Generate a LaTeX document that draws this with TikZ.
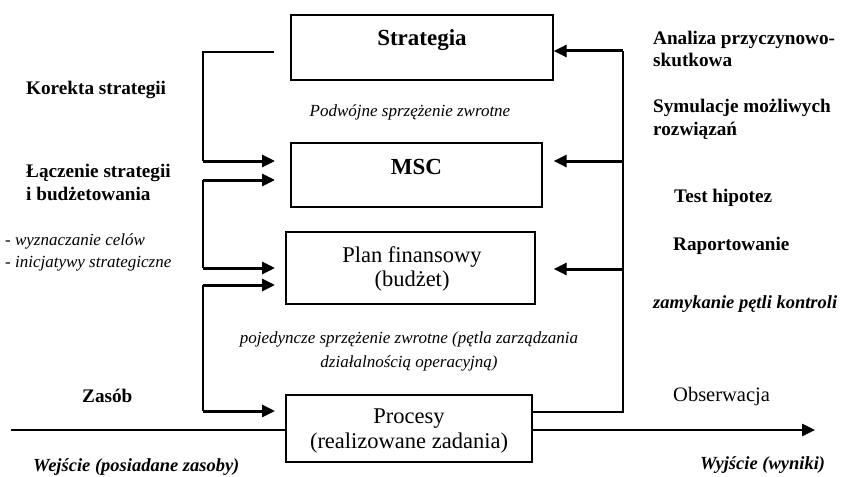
\documentclass[tikz,border=0pt]{standalone}
\usepackage{fontspec}
\setmainfont{Liberation Serif}
\usetikzlibrary{calc}
\usetikzlibrary{arrows.meta}

\tikzset{
  blok/.style={draw,line width=1.3pt,inner sep=0pt},
  tytul/.style={font=\fontsize{23}{26}\selectfont\bfseries,anchor=base},
  tresc/.style={font=\fontsize{22.5}{25}\selectfont,anchor=base},
  opis/.style={font=\fontsize{19.2}{23}\selectfont\bfseries,align=left,anchor=base west,inner sep=0pt},
  opisn/.style={font=\fontsize{20.5}{23}\selectfont,anchor=base west,inner sep=0pt},
  kurs/.style={font=\fontsize{17}{21}\selectfont\itshape,inner sep=0pt},
  kursb/.style={font=\fontsize{18.5}{22}\selectfont\bfseries\itshape,anchor=base west,inner sep=0pt},
  cienka/.style={line width=1.3pt},
  gruba/.style={line width=3pt,-{Triangle[length=13pt,width=12pt]}},
  wyjscie/.style={line width=2.5pt,-{Triangle[length=13pt,width=12pt]}}
}

\begin{document}
\begin{tikzpicture}[x=1pt,y=-1pt]
\useasboundingbox (0,0) rectangle (850,476);
\node[blok,minimum width=262pt,minimum height=65pt] (S) at (422,47.5) {};
\node[blok,minimum width=251pt,minimum height=64pt] (M) at (416.5,175) {};
\node[blok,minimum width=249pt,minimum height=72pt] (F) at (410.5,268) {};
\node[blok,minimum width=246pt,minimum height=67pt] (P) at (409,428.5) {};
\node[tytul] (St) at (422,46) {Strategia};
\node[tytul] (Mt) at (416.5,174) {MSC};
\node[tresc] (Ft1) at (412,262) {Plan finansowy};
\node[tresc] (Ft2) at (412,286) {(budżet)};
\node[tresc] (Pt1) at (409,423) {Procesy};
\node[tresc] (Pt2) at (409,448) {(realizowane zadania)};
\node[kurs,anchor=base] (pod) at (410,117) {Podwójne sprzężenie zwrotne};
\node[kurs,anchor=base] (poj1) at (409,343) {pojedyncze sprzężenie zwrotne (pętla zarządzania};
\node[kurs,anchor=base] (poj2) at (409,367) {działalnością operacyjną)};

\node[opis] (kor) at (26,95) {Korekta strategii};
\node[opis] (lacz1) at (26,177) {Łączenie strategii};
\node[opis] (lacz2) at (26,200) {i budżetowania};
\node[kurs,anchor=base west] (cel1) at (5,245) {- wyznaczanie celów};
\node[kurs,anchor=base west] (cel2) at (5,267) {- inicjatywy strategiczne};
\node[opis] (zas) at (82,402) {Zasób};
\node[kursb] (wej) at (33,471) {Wejście (posiadane zasoby)};

\node[opis] (ana1) at (653,45) {Analiza przyczynowo-};
\node[opis] (ana2) at (653,67) {skutkowa};
\node[opis] (sym1) at (653,113) {Symulacje możliwych};
\node[opis] (sym2) at (653,135) {rozwiązań};
\node[opis] (test) at (674,202) {Test hipotez};
\node[opis] (rap) at (673,250) {Raportowanie};
\node[kursb] (zam) at (653,308) {zamykanie pętli kontroli};
\node[opisn] (obs) at (673,401) {Obserwacja};
\node[kursb] (wyj) at (700,469) {Wyjście (wyniki)};

\coordinate (A0) at (274,52);
\coordinate (A1) at (203,161);
\coordinate (A2) at (203,180);
\coordinate (A3) at (203,268);
\coordinate (A4) at (203,285);
\coordinate (A5) at (203,411);
\coordinate (B0) at (623,51);
\coordinate (B1) at (623,161);
\coordinate (B2) at (623,269);
\coordinate (B3) at (623,412);
\coordinate (W0) at (11,430);
\coordinate (W1) at (815,430);

\draw[cienka] (A0) -| (A1);
\draw[cienka] (A2) -- (A3);
\draw[cienka] (A4) -- (A5);
\foreach \a in {A1,A2,A3,A4,A5}
  \draw[gruba] (\a) -- ++(72,0);

\draw[cienka] (P.east |- B3) -- (B3) -- (B0);
\foreach \b in {B0,B1,B2}
  \draw[gruba] (\b) -- (S.east |- \b);

\draw[cienka] (W0) -- (W0 -| P.west);
\draw[wyjscie] (W0 -| P.east) -- (W1);
\end{tikzpicture}
\end{document}
